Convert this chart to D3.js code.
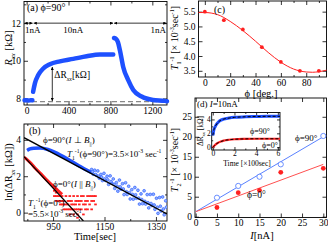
<!DOCTYPE html>
<html>
<head>
<meta charset="utf-8">
<script src="https://cdn.jsdelivr.net/npm/d3@7"></script>
<style>
  body { margin: 0; background: #fff; }
  svg { font-family: "Liberation Serif", "Times New Roman", serif; }
</style>
</head>
<body>
<svg id="chart" width="328" height="242"></svg>
<script>
// ---------- data ----------
// (a) R_xx [kOhm] vs time [sec], phi = 90 deg
const aTime1 = [-20, 0, 20, 40, 55];
const aR1 = [7.9, 7.9, 7.89, 7.9, 7.9];
const aTime2 = [62, 79, 111, 159, 222, 318, 445, 573, 700, 827];
const aR2 = [8.35, 8.8, 9.24, 9.59, 9.82, 9.97, 10.1, 10.24, 10.33, 10.33];
const aTime3 = [834, 853, 872, 891, 922, 970, 1018, 1098, 1206, 1321, 1340];
const aR3 = [11.21, 11.16, 10.98, 10.55, 9.67, 8.97, 8.45, 8.1, 7.92, 7.87, 7.85];
const aBaseline = 7.83;
const aCurrentLabels = ["1nA", "10nA", "1nA"];
const aSwitchTimes = [-25, 62, 830, 1340];

// (b) ln(dR_xx) vs time
const bFitTime90 = [837, 1393], bFit90 = [4.12, -0.07];
const bFitTime0 = [837, 1068], bFit0 = [3.08, -0.46];
const bBlueTime = [849, 860, 875, 900, 930, 960, 1000, 1050, 1100];
const bBlue = [3.42, 3.5, 3.54, 3.55, 3.47, 3.3, 3.0, 2.58, 2.2];
const bBlueScatTime = [1100, 1106, 1112, 1118, 1124, 1130, 1136, 1142, 1148, 1154, 1160, 1166, 1172, 1178, 1184, 1190, 1196, 1202, 1208, 1214, 1220, 1226, 1232, 1238, 1244, 1250, 1256, 1262, 1268, 1274, 1280, 1286, 1292, 1298, 1304, 1310, 1316, 1322, 1328, 1334, 1340, 1346, 1352, 1358, 1364, 1370, 1376, 1382, 1388,
  1103, 1115, 1127, 1139, 1151, 1163, 1175, 1187, 1199, 1211, 1223, 1235, 1247, 1259, 1271, 1283, 1295, 1307, 1319, 1331, 1343, 1355, 1367, 1379, 1391];
const bBlueScat = [2.37, 2.11, 2.33, 2.05, 2.29, 1.89, 2.1, 1.76, 2.16, 1.77, 2.0, 1.55, 2.02, 1.63, 1.85, 1.33, 1.65, 1.18, 1.79, 1.29, 1.59, 0.99, 1.64, 1.0, 1.45, 0.75, 1.26, 0.74, 1.38, 0.79, 1.23, 0.47, 1.03, 0.49, 1.2, 0.47, 0.99, 0.26, 1.0, 0.39, 1.01, 0.18, 0.79, -0.04, 0.83, 0.09, 0.86, -0.12, 0.65,
  2.25, 2.1, 2.0, 1.95, 1.85, 1.8, 1.7, 1.55, 1.45, 1.42, 1.3, 1.15, 1.1, 1.0, 0.98, 0.8, 0.72, 0.62, 0.55, 0.5, 0.42, 0.3, 0.35, 0.2, 0.3];
const bRedTime = [837, 850, 865, 880, 895, 910, 925, 940, 955, 970, 985];
const bRed = [3.05, 2.9, 2.7, 2.45, 2.25, 2.02, 1.8, 1.6, 1.4, 1.2, 1.0];
const bRedScatTime = [955, 955, 962, 962, 962, 970, 970, 978, 978, 978, 985, 985, 985, 992, 992, 992, 1000, 1000, 1000, 1008, 1008, 1008,
  1015, 1015, 1015, 1015, 1022, 1022, 1022, 1030, 1030, 1030, 1030, 1038, 1038, 1038, 1045, 1045, 1045, 1045, 1045, 1052, 1052, 1052,
  1060, 1060, 1060, 1068, 1068, 1068, 1076, 1076, 1076, 1084, 1084, 1084, 1092, 1092, 1100, 1100, 1100, 1108, 1108, 1115, 1115];
const bRedScat = [1.2, 0.91, 1.1, 0.91, 0.64, 0.91, 0.64, 0.91, 0.64, 0.45, 0.91, 0.64, 0.45, 0.64, 0.45, 0.18, 0.91, 0.45, 0.18, 0.64, 0.45, 0.18,
  0.91, 0.64, 0.18, -0.1, 0.64, 0.45, 0.18, 0.91, 0.45, 0.18, -0.1, 0.64, 0.45, 0.18, 0.91, 0.64, 0.18, -0.1, -0.28, 0.64, 0.45, 0.18,
  0.91, 0.64, 0.18, 0.91, 0.45, -0.1, 0.64, 0.45, 0.18, 0.91, 0.64, 0.18, 0.91, 0.45, 0.91, 0.64, 0.18, 0.91, 0.64, 0.91, 0.45];

// (c) T1^-1 vs phi
const cPhi = [0, 15, 30, 45, 60, 75, 90];
const cT1 = [5.5, 5.21, 4.9, 4.3, 3.8, 3.5, 3.5];
const cFitPhi = [-5, 0, 10, 20, 30, 40, 50, 60, 70, 80, 85, 90, 96];
const cFit = [5.47, 5.47, 5.4, 5.17, 4.86, 4.5, 4.12, 3.79, 3.56, 3.46, 3.45, 3.47, 3.52];

// (d) T2^-1 vs current
const dCurrent = [5, 10, 15, 20, 30];
const dT2phi90 = [4.75, 7.7, 10.0, 13.1, 20.2];
const dT2phi0 = [2.3, 6.0, 6.6, 11.1, 12.1];
const dFitI = [0, 30];
const dFit90 = [1.25, 20.0];
const dFit0 = [1.25, 13.1];

// (d) inset: dR_xx vs time [x100 sec], I = 10nA
const insTime = [0, 0.05, 0.1, 0.2, 0.3, 0.5, 0.75, 1.0, 1.5, 2.0, 3.0, 4.0, 5.0, 6.2];
const insBlue = [1.7, 2.1, 2.5, 2.9, 3.2, 3.6, 3.9, 4.05, 4.2, 4.3, 4.38, 4.42, 4.45, 4.45];
const insRed = [-0.05, 0.05, 0.14, 0.3, 0.45, 0.65, 0.82, 0.95, 1.08, 1.15, 1.2, 1.22, 1.22, 1.22];

// ---------- helpers ----------
const svg = d3.select("#chart");
const BLUE = "#1e50ff", RED = "#ff2020";
const FONT = "Liberation Serif, Times New Roman, serif";

svg.append("defs").html(`
  <marker id="ah" viewBox="0 0 10 10" refX="10" refY="5" markerWidth="4" markerHeight="4" orient="auto-start-reverse">
    <path d="M0,0 L10,5 L0,10 z" fill="#000"/></marker>`);

function frame(x, y, o) {
  const g = svg.append("g");
  const [x0, x1] = x.range(), [y0, y1] = y.range();
  const ts = o.ts || 4, fs = o.fs || 9.5;
  const add = (axis, tr) => {
    const a = g.append("g").attr("transform", tr).call(axis)
      .attr("font-family", FONT).attr("font-size", fs);
    a.select(".domain").remove();
    a.selectAll("line").attr("stroke-width", 0.8);
    return a;
  };
  const none = () => "";
  add(d3.axisBottom(x).tickValues(o.xMajor).tickSize(-ts).tickPadding(o.pad || 2).tickFormat(o.xLab === false ? none : (o.xFmt || d3.format(""))), `translate(0,${y0})`);
  add(d3.axisTop(x).tickValues(o.xMajor).tickSize(-ts).tickFormat(none), `translate(0,${y1})`);
  add(d3.axisLeft(y).tickValues(o.yMajor).tickSize(-ts).tickPadding(o.pad || 3).tickFormat(o.yFmt || d3.format("")), `translate(${x0},0)`);
  add(d3.axisRight(y).tickValues(o.yMajor).tickSize(-ts).tickFormat(none), `translate(${x1},0)`);
  if (o.xMinor) {
    add(d3.axisBottom(x).tickValues(o.xMinor).tickSize(-ts / 2).tickFormat(none), `translate(0,${y0})`);
    add(d3.axisTop(x).tickValues(o.xMinor).tickSize(-ts / 2).tickFormat(none), `translate(0,${y1})`);
  }
  if (o.yMinor) {
    add(d3.axisLeft(y).tickValues(o.yMinor).tickSize(-ts / 2).tickFormat(none), `translate(${x0},0)`);
    add(d3.axisRight(y).tickValues(o.yMinor).tickSize(-ts / 2).tickFormat(none), `translate(${x1},0)`);
  }
  g.append("rect").attr("x", x0).attr("y", y1).attr("width", x1 - x0).attr("height", y0 - y1)
    .attr("fill", "none").attr("stroke", "#000").attr("stroke-width", 0.9);
  return g;
}

// parts: string or [text, flags]; flags: i italic, b subscript, p superscript
function rich(x, y, parts, size, o = {}) {
  const t = svg.append("text").attr("x", x).attr("y", y).attr("font-size", size).attr("fill", o.fill || "#000");
  if (o.rotate) t.attr("transform", `rotate(-90,${x},${y})`);
  if (o.anchor) t.attr("text-anchor", o.anchor);
  let shift = 0;
  parts.forEach(p => {
    const [s, f] = typeof p === "string" ? [p, ""] : p;
    const s2 = f.includes("b") ? size * 0.3 : f.includes("p") ? -size * 0.4 : 0;
    const sp = t.append("tspan").text(s).attr("dy", s2 - shift);
    shift = s2;
    if (s2 !== 0) sp.attr("font-size", size * 0.62);
    if (f.includes("i")) sp.attr("font-style", "italic");
  });
  return t;
}
const zip = (a, b) => a.map((v, i) => [v, b[i]]);

// ---------- (a) ----------
{
  const x = d3.scaleLinear().domain([-25, 1340]).range([24, 167]);
  const y = d3.scaleLinear().domain([7.65, 13.15]).range([105, 1.5]);
  frame(x, y, { xMajor: [0, 400, 800, 1200], xMinor: [200, 600, 1000], yMajor: [8, 10, 12], yMinor: [9, 11, 13] });
  svg.append("line").attr("x1", x(-25)).attr("x2", x(1340)).attr("y1", y(aBaseline)).attr("y2", y(aBaseline))
    .attr("stroke", "#888").attr("stroke-width", 1.2).attr("stroke-dasharray", "5,3");
  const line = d3.line().x(d => x(d[0])).y(d => y(d[1])).curve(d3.curveMonotoneX);
  [[aTime1, aR1], [aTime2, aR2], [aTime3, aR3]].forEach(([t, r]) =>
    svg.append("path").datum(zip(t, r)).attr("d", line).attr("fill", "none")
      .attr("stroke", BLUE).attr("stroke-width", 4.5).attr("stroke-linecap", "round"));
  // current switching arrows at R = 12
  for (let i = 0; i < 3; i++) {
    svg.append("line").attr("x1", x(aSwitchTimes[i]) + 0.5).attr("x2", x(aSwitchTimes[i + 1]) - 0.5)
      .attr("y1", y(12)).attr("y2", y(12)).attr("stroke", "#000").attr("stroke-width", 0.8)
      .attr("marker-start", "url(#ah)").attr("marker-end", "url(#ah)");
  }
  const lx = [x(-25) + 1, (x(62) + x(830)) / 2, x(1340) - 1];
  const an = ["start", "middle", "end"];
  aCurrentLabels.forEach((s, i) => svg.append("text").attr("x", lx[i]).attr("y", y(12) + 10)
    .attr("text-anchor", an[i]).attr("font-size", 9).text(s));
  // delta R arrow
  svg.append("line").attr("x1", x(245)).attr("x2", x(245)).attr("y1", y(9.67)).attr("y2", y(7.86))
    .attr("stroke", "#000").attr("stroke-width", 0.8).attr("marker-start", "url(#ah)").attr("marker-end", "url(#ah)");
  rich(x(245) + 2, y(9.07), ["ΔR", ["xx", "ib"], "[kΩ]"], 9.5);
  rich(27, 11, ["(a) ϕ=90°"], 10);
  rich(12, 48, [["R", "i"], ["xx", "ib"], " [kΩ]"], 10.5, { rotate: true, anchor: "middle" });
}

// ---------- (b) ----------
{
  const x = d3.scaleLinear().domain([837, 1393]).range([24, 167]);
  const y = d3.scaleLinear().domain([-0.46, 4.87]).range([221, 124]);
  frame(x, y, { xMajor: [950, 1150, 1350], xMinor: [850, 1050, 1250], yMajor: [0, 2, 4], yMinor: [1, 3] });
  const g = svg.append("g");
  g.append("clipPath").attr("id", "clipb").append("rect")
    .attr("x", 24).attr("y", 124).attr("width", 143).attr("height", 97);
  const pg = g.append("g").attr("clip-path", "url(#clipb)");
  const line = d3.line().x(d => x(d[0])).y(d => y(d[1])).curve(d3.curveMonotoneX);
  pg.append("path").datum(zip(bBlueTime, bBlue)).attr("d", line).attr("fill", "none")
    .attr("stroke", BLUE).attr("stroke-width", 3.5);
  pg.selectAll(".bs").data(zip(bBlueScatTime, bBlueScat)).join("circle")
    .attr("cx", d => x(d[0])).attr("cy", d => y(d[1])).attr("r", 1.4)
    .attr("fill", "#8fb0ff").attr("stroke", BLUE).attr("stroke-width", 0.6);
  pg.append("path").datum(zip(bRedTime, bRed)).attr("d", line).attr("fill", "none")
    .attr("stroke", RED).attr("stroke-width", 3);
  pg.selectAll(".rs").data(zip(bRedScatTime, bRedScat)).join("rect")
    .attr("x", d => x(d[0]) - 1.3).attr("y", d => y(d[1]) - 0.9).attr("width", 2.6).attr("height", 1.8)
    .attr("fill", RED);
  pg.append("path").datum(zip(bFitTime90, bFit90)).attr("d", d3.line().x(d => x(d[0])).y(d => y(d[1])))
    .attr("stroke", "#000").attr("stroke-width", 1.3);
  pg.append("path").datum(zip(bFitTime0, bFit0)).attr("d", d3.line().x(d => x(d[0])).y(d => y(d[1])))
    .attr("stroke", "#000").attr("stroke-width", 1.3);
  rich(29, 134, ["(b)"], 10);
  rich(43, 143, ["ϕ=90°(", ["I", "i"], " ⊥ ", ["B", "i"], ["||", "b"], ")"], 9);
  rich(67, 157, [["T", "i"], ["1", "b"], ["-1", "p"], "(ϕ=90°)=3.5×10", ["-3", "p"], " sec", ["-1", "p"]], 9);
  rich(53, 187, ["ϕ=0°(", ["I", "i"], " || ", ["B", "i"], ["||", "b"], ")"], 9);
  rich(28, 206, [["T", "i"], ["1", "b"], ["-1", "p"], "(ϕ=0°)"], 9);
  rich(28, 217, ["=5.5×10", ["-3", "p"], " sec", ["-1", "p"]], 9);
  rich(95, 240, ["Time[sec]"], 10.5, { anchor: "middle" });
  rich(12, 172, ["ln(ΔR", ["xx", "ib"], " [kΩ])"], 10.5, { rotate: true, anchor: "middle" });
}

// ---------- (c) ----------
{
  const x = d3.scaleLinear().domain([-5, 96]).range([198.5, 326.5]);
  const y = d3.scaleLinear().domain([3.29, 5.86]).range([77, 1]);
  frame(x, y, { xMajor: [0, 20, 40, 60, 80], xMinor: [10, 30, 50, 70, 90], yMajor: [3.5, 4, 4.5, 5, 5.5], yFmt: d3.format(".1f") });
  svg.append("path").datum(zip(cFitPhi, cFit))
    .attr("d", d3.line().x(d => x(d[0])).y(d => y(d[1])).curve(d3.curveMonotoneX))
    .attr("fill", "none").attr("stroke", RED).attr("stroke-width", 1);
  svg.selectAll(".cp").data(zip(cPhi, cT1)).join("circle")
    .attr("cx", d => x(d[0])).attr("cy", d => y(d[1])).attr("r", 1.9).attr("fill", RED);
  rich(214, 13, ["(c)"], 10);
  rich(261, 97, ["ϕ [deg.]"], 10.5, { anchor: "middle" });
  rich(178, 38, [["T", "i"], ["1", "b"], ["-1", "p"], " [× 10", ["-3", "p"], "sec", ["-1", "p"], "]"], 10, { rotate: true, anchor: "middle" });
}

// ---------- (d) ----------
{
  const x = d3.scaleLinear().domain([-0.16, 30.75]).range([195, 326.5]);
  const y = d3.scaleLinear().domain([-0.2, 29.7]).range([217.5, 98]);
  frame(x, y, { xMajor: [0, 5, 10, 15, 20, 25, 30], yMajor: [0, 5, 10, 15, 20, 25] });
  const ln = d3.line().x(d => x(d[0])).y(d => y(d[1]));
  svg.append("path").datum(zip(dFitI, dFit90)).attr("d", ln).attr("stroke", "#5a82ff").attr("stroke-width", 1);
  svg.append("path").datum(zip(dFitI, dFit0)).attr("d", ln).attr("stroke", "#ff5050").attr("stroke-width", 1);
  svg.selectAll(".d9").data(zip(dCurrent, dT2phi90)).join("circle")
    .attr("cx", d => x(d[0])).attr("cy", d => y(d[1])).attr("r", 2.6)
    .attr("fill", "#fff").attr("stroke", "#5a82ff").attr("stroke-width", 0.9);
  svg.selectAll(".d0").data(zip(dCurrent, dT2phi0)).join("circle")
    .attr("cx", d => x(d[0])).attr("cy", d => y(d[1])).attr("r", 2.4).attr("fill", RED);
  rich(197, 107, ["(d) ", ["I", "i"], "=10nA"], 9);
  rich(295, 141, ["ϕ=90°"], 9);
  rich(247, 198, ["ϕ=0°"], 9.5);
  rich(262, 239, [["I", "i"], "[nA]"], 10.5, { anchor: "middle" });
  rich(178, 160, [["T", "i"], ["2", "b"], ["-1", "p"], " [× 10", ["-3", "p"], "sec", ["-1", "p"], "]"], 10, { rotate: true, anchor: "middle" });

  // inset
  const xi = d3.scaleLinear().domain([-0.1, 6.2]).range([211.7, 280]);
  const yi = d3.scaleLinear().domain([-0.4, 5]).range([150, 112.5]);
  svg.append("rect").attr("x", 211.7).attr("y", 112.5).attr("width", 68.3).attr("height", 37.5).attr("fill", "#fff");
  frame(xi, yi, { xMajor: [0, 2, 4, 6], xMinor: [1, 3, 5], yMajor: [0, 2, 4], yMinor: [1, 3], ts: 3, fs: 7.5, pad: 1 });
  const li = d3.line().x(d => xi(d[0])).y(d => yi(d[1])).curve(d3.curveMonotoneX);
  svg.append("path").datum(zip(insTime, insBlue)).attr("d", li).attr("fill", "none").attr("stroke", BLUE).attr("stroke-width", 3);
  svg.append("path").datum(zip(insTime, insRed)).attr("d", li).attr("fill", "none").attr("stroke", RED).attr("stroke-width", 2.2);
  [insBlue, insRed].forEach(v => svg.append("path").datum(zip(insTime, v)).attr("d", li).attr("fill", "none")
    .attr("stroke", "#000").attr("stroke-width", 1).attr("stroke-dasharray", "3,2"));
  rich(250, 134, ["ϕ=90°"], 8);
  rich(262, 148, ["ϕ=0°"], 8);
  rich(247, 166, ["Time [×100sec]"], 7.5, { anchor: "middle" });
  rich(203, 131, ["ΔR", ["xx", "ib"], " [kΩ]"], 7.5, { rotate: true, anchor: "middle" });
}
</script>
</body>
</html>
